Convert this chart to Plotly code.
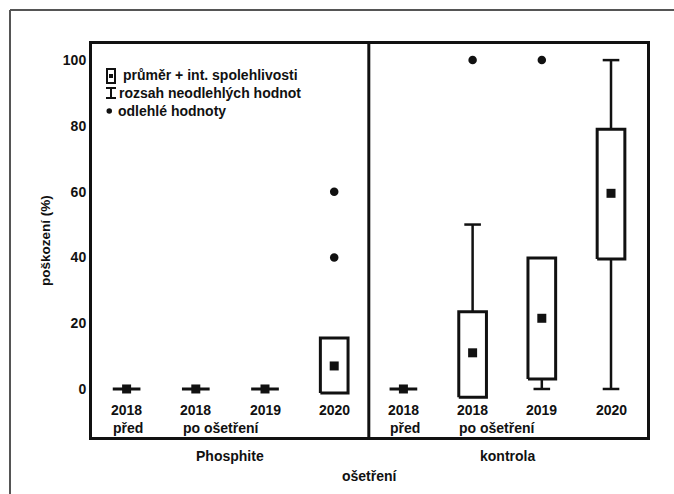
import plotly.graph_objects as go

# ---------------- data ----------------
year_labels = ["2018", "2018", "2019", "2020", "2018", "2018", "2019", "2020"]
phase_labels = ["před", "po ošetření", "", "", "před", "po ošetření", "", ""]
groups = ["Phosphite", "kontrola"]
mean_vals = [0, 0, 0, 7, 0, 11, 21.5, 59.5]
ci_low = [0, 0, 0, -1.2, 0, -2.5, 3, 39.5]
ci_high = [0, 0, 0, 15.5, 0, 23.5, 39.8, 79]
range_low = [0, 0, 0, 0, 0, 0, 0, 0]
range_high = [0, 0, 0, 0, 0, 50, 39.8, 100]
outlier_idx = [3, 3, 5, 6]
outlier_vals = [40, 60, 100, 100]
legend_texts = ["průměr + int. spolehlivosti", "rozsah neodlehlých hodnot", "odlehlé hodnoty"]

W, H = 674, 494
ML, MR, MT, MB = 92, 27, 44, 57
PW, PH = W - ML - MR, H - MT - MB


def px(x):
    return (x - ML) / PW


def py(y):
    return (H - MB - y) / PH


BW = 0.2   # box half width
CW = 0.12  # cap half width
xs = list(range(len(mean_vals)))

# box outlines
bx, by = [], []
for i in xs:
    lo, hi = ci_low[i], ci_high[i]
    bx += [i - BW, i + BW, i + BW, i - BW, i - BW, None]
    by += [lo, lo, hi, hi, lo, None]

# whiskers (only the part outside the box)
wx, wy = [], []
for i in xs:
    if range_high[i] > ci_high[i] + 0.5:
        wx += [i, i, None, i - CW, i + CW, None]
        wy += [ci_high[i], range_high[i], None, range_high[i], range_high[i], None]
    if range_low[i] < ci_low[i] - 0.5:
        wx += [i, i, None, i - CW, i + CW, None]
        wy += [ci_low[i], range_low[i], None, range_low[i], range_low[i], None]

fig = go.Figure()
fig.add_trace(go.Scatter(x=wx, y=wy, mode="lines", line=dict(color="#111", width=2.5),
                         hoverinfo="skip", showlegend=False))
fig.add_trace(go.Scatter(x=bx, y=by, mode="lines", line=dict(color="#111", width=3),
                         hoverinfo="skip", showlegend=False))
fig.add_trace(go.Scatter(x=xs, y=mean_vals, mode="markers",
                         marker=dict(symbol="square", size=9, color="#111"),
                         showlegend=False))
fig.add_trace(go.Scatter(x=outlier_idx, y=outlier_vals, mode="markers",
                         marker=dict(symbol="circle", size=8.5, color="#111"),
                         showlegend=False))

ann = []
# category labels
for i in xs:
    ann.append(dict(x=i, y=py(410), xref="x", yref="paper", text=year_labels[i],
                    showarrow=False, xanchor="center", yanchor="middle"))
    if phase_labels[i]:
        ann.append(dict(x=i - 0.22, y=py(428), xref="x", yref="paper", text=phase_labels[i],
                        showarrow=False, xanchor="left", yanchor="middle"))
# group labels
ann.append(dict(x=1.5, y=py(456), xref="x", yref="paper", text=groups[0], showarrow=False,
                xanchor="center", yanchor="middle"))
ann.append(dict(x=5.5, y=py(456), xref="x", yref="paper", text=groups[1], showarrow=False,
                xanchor="center", yanchor="middle"))
ann.append(dict(x=px(370), y=py(476), xref="paper", yref="paper", text="ošetření",
                showarrow=False, xanchor="center", yanchor="middle"))
# legend text
for t, (lx, ly) in zip(legend_texts, [(121, 75), (117, 93), (116, 111)]):
    ann.append(dict(x=px(lx), y=py(ly), xref="paper", yref="paper", text=t, showarrow=False,
                    xanchor="left", yanchor="middle"))

frame = dict(color="#555", width=2)
shapes = [
    # outer frame (left and top edges)
    dict(type="line", xref="paper", yref="paper", x0=px(10), x1=px(10), y0=py(H + 5), y1=py(10),
         line=frame),
    dict(type="line", xref="paper", yref="paper", x0=px(10), x1=px(W + 5), y0=py(10), y1=py(10),
         line=frame),
    # group divider
    dict(type="line", xref="x", yref="paper", x0=3.5, x1=3.5, y0=0, y1=1,
         line=dict(color="#111", width=3)),
    # legend icons
    dict(type="rect", xref="paper", yref="paper", x0=px(107), x1=px(115), y0=py(83), y1=py(69),
         line=dict(color="#111", width=2), fillcolor="white"),
    dict(type="rect", xref="paper", yref="paper", x0=px(109), x1=px(113), y0=py(78), y1=py(74),
         line=dict(color="#111", width=0), fillcolor="#111"),
    dict(type="line", xref="paper", yref="paper", x0=px(106), x1=px(116), y0=py(88), y1=py(88),
         line=dict(color="#111", width=2)),
    dict(type="line", xref="paper", yref="paper", x0=px(106), x1=px(116), y0=py(98), y1=py(98),
         line=dict(color="#111", width=2)),
    dict(type="line", xref="paper", yref="paper", x0=px(111), x1=px(111), y0=py(88), y1=py(98),
         line=dict(color="#111", width=2)),
    dict(type="circle", xref="paper", yref="paper", x0=px(106.5), x1=px(112), y0=py(113.7), y1=py(108.3),
         line=dict(color="#111", width=0), fillcolor="#111"),
]

fig.update_layout(
    width=W, height=H,
    margin=dict(l=ML, r=MR, t=MT, b=MB),
    paper_bgcolor="white", plot_bgcolor="white",
    font=dict(family="Liberation Sans, Arial, sans-serif", size=14, color="#111", weight="bold"),
    xaxis=dict(range=[-0.5, 7.52], showticklabels=False, ticks="", showgrid=False, zeroline=False,
               showline=True, mirror=True, linecolor="#111", linewidth=3),
    yaxis=dict(range=[-14.6, 104.9], tickvals=[0, 20, 40, 60, 80, 100], ticks="", showgrid=False,
               zeroline=False, showline=True, mirror=True, linecolor="#111", linewidth=3,
               ticklabelstandoff=0,
               title=dict(text="poškození (%)", standoff=10, font=dict(size=13.5))),
    annotations=ann,
    shapes=shapes,
    showlegend=False,
)

fig.write_html("out.html", config={"displayModeBar": False},
               post_script="document.body.style.margin='0';")
